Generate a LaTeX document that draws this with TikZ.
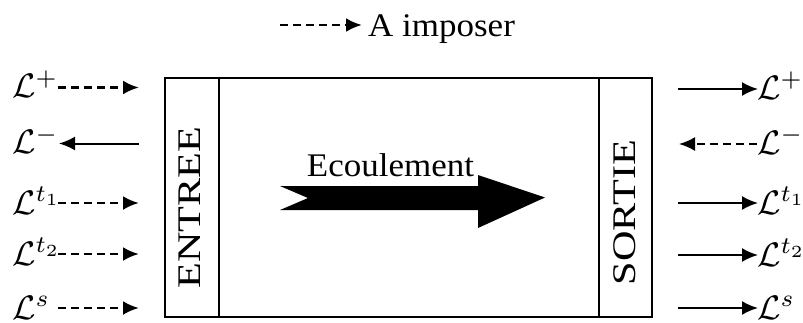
\documentclass[tikz,border=0pt]{standalone}
\usepackage{fontspec}
\setmainfont{Liberation Serif}
\usepackage{graphicx}
\usetikzlibrary{arrows.meta}
\begin{document}
\begin{tikzpicture}[x=1pt,y=-1pt,
  solidarr/.style={line width=2pt,-{Latex[length=16pt,width=14pt]}},
  dasharr/.style={line width=2.8pt,-{Latex[length=16pt,width=14pt]},dash pattern=on 8pt off 5pt},
  lbl/.style={inner sep=0pt,anchor=base west},
  txt/.style={inner sep=0pt,font=\fontsize{33}{38}\selectfont},
  boxline/.style={line width=2.6pt}]
\useasboundingbox (0,0) rectangle (803,322);
% legend
\coordinate (legA) at (280,25);
\coordinate (legB) at (362,25);
\draw[dasharr] (legA) -- (legB);
\node[txt,anchor=base west] (leg) at (368,36) {\scalebox{1.06}[1]{A imposer}};
% box
\draw[boxline] (165,78) rectangle (652,317);
\draw[boxline] (219,78) -- (219,317);
\draw[boxline] (599,78) -- (599,317);
\node[txt,rotate=90,anchor=base] (entree) at (200,207.5) {\scalebox{1.28}[1]{ENTREE}};
\node[txt,rotate=90,anchor=base] (sortie) at (635,212.5) {\scalebox{1.28}[1]{SORTIE}};
% flow arrow
\fill (280,186) -- (478,186) -- (478,175) -- (545,197.5) -- (478,228) -- (478,210) -- (280,210) -- (308,198) -- cycle;
\node[txt,anchor=base west] (ecoul) at (306.7,176) {\scalebox{1.06}[1]{Ecoulement}};
% left side
\node[lbl] (lp) at (12,97.5) {\scalebox{3.4}{$\mathcal{L}^{+}$}};
\node[lbl] (lm) at (12,153.5) {\scalebox{3.4}{$\mathcal{L}^{-}$}};
\node[lbl] (lt1) at (12,214) {\scalebox{3.4}{$\mathcal{L}^{t_1}$}};
\node[lbl] (lt2) at (12,265) {\scalebox{3.4}{$\mathcal{L}^{t_2}$}};
\node[lbl] (ls) at (12,319) {\scalebox{3.4}{$\mathcal{L}^{s}$}};
\coordinate (lpa) at (58,87.5);   \coordinate (lpb) at (139,87.5);
\coordinate (lma) at (59,143.5);  \coordinate (lmb) at (139,143.5);
\coordinate (lt1a) at (58,203);   \coordinate (lt1b) at (139,203);
\coordinate (lt2a) at (58,254);   \coordinate (lt2b) at (139,254);
\coordinate (lsa) at (58,308);    \coordinate (lsb) at (139,308);
\draw[dasharr] (lpa) -- (lpb);
\draw[solidarr] (lmb) -- (lma);
\draw[dasharr] (lt1a) -- (lt1b);
\draw[dasharr] (lt2a) -- (lt2b);
\draw[dasharr] (lsa) -- (lsb);
% right side
\node[lbl] (rp) at (757,99) {\scalebox{3.4}{$\mathcal{L}^{+}$}};
\node[lbl] (rm) at (757,154) {\scalebox{3.4}{$\mathcal{L}^{-}$}};
\node[lbl] (rt1) at (757,214) {\scalebox{3.4}{$\mathcal{L}^{t_1}$}};
\node[lbl] (rt2) at (757,266) {\scalebox{3.4}{$\mathcal{L}^{t_2}$}};
\node[lbl] (rs) at (757,319) {\scalebox{3.4}{$\mathcal{L}^{s}$}};
\coordinate (rpa) at (678,89);    \coordinate (rpb) at (758,89);
\coordinate (rma) at (679,144);   \coordinate (rmb) at (757,144);
\coordinate (rt1a) at (678,203);  \coordinate (rt1b) at (758,203);
\coordinate (rt2a) at (678,255);  \coordinate (rt2b) at (758,255);
\coordinate (rsa) at (678,308);   \coordinate (rsb) at (758,308);
\draw[solidarr] (rpa) -- (rpb);
\draw[dasharr,line width=2pt] (rmb) -- (rma);
\draw[solidarr] (rt1a) -- (rt1b);
\draw[solidarr] (rt2a) -- (rt2b);
\draw[solidarr] (rsa) -- (rsb);
\end{tikzpicture}
\end{document}
